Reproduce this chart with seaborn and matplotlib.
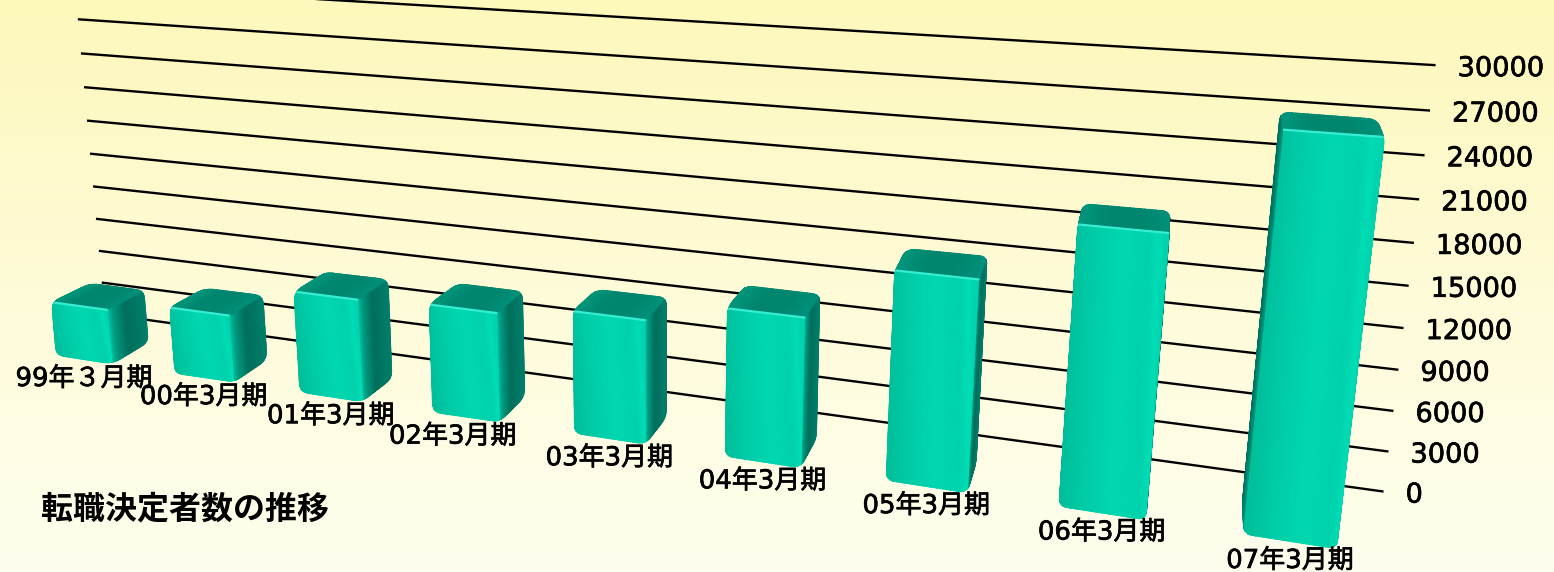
# recruiting chart: bars in a perspective view
import numpy as np
import matplotlib
matplotlib.use("Agg")
import matplotlib.pyplot as plt
import matplotlib.patheffects as pe
from matplotlib.colors import LinearSegmentedColormap
from matplotlib.path import Path
from matplotlib.transforms import Transform
import seaborn as sns

periods = ["99年３月期", "00年3月期", "01年3月期", "02年3月期", "03年3月期",
           "04年3月期", "05年3月期", "06年3月期", "07年3月期"]
placements = [4800, 5750, 8500, 8850, 9750, 11400, 15550, 20000, 27250]
ticks = [0, 3000, 6000, 9000, 12000, 15000, 18000, 21000, 24000, 27000, 30000]
title = "転職決定者数の推移"

# camera: vanishing points for category, value and depth directions
VP_X = (-4000, -256)
VP_V = (660, 6424)
VP_Z = (1200, -265)
ORIGIN = (84, 360)
A, B, C = -0.0285, -1.84e-6, 0.035
WALL_Z = 1.911
BAR_DEPTH = 1.0
WALL_LEFT, WALL_RIGHT = -0.45, 8.55


def project(x, v, z=0.0):
    x, v, z = np.asarray(x, float), np.asarray(v, float), np.asarray(z, float)
    den = 1 + A * x + B * v + C * z
    px = (A * x * VP_X[0] + B * v * VP_V[0] + C * z * VP_Z[0] + ORIGIN[0]) / den
    py = (A * x * VP_X[1] + B * v * VP_V[1] + C * z * VP_Z[1] + ORIGIN[1]) / den
    return px, py


class Perspective(Transform):
    input_dims = 2
    output_dims = 2
    is_affine = False
    has_inverse = False

    def __init__(self, z):
        super().__init__()
        self.z = z

    def transform_non_affine(self, values):
        values = np.asarray(values, float)
        px, py = project(values[:, 0], values[:, 1], self.z)
        return np.column_stack([px, py])


def hull(points):
    pts = sorted(set(points))
    def half(seq):
        out = []
        for p in seq:
            while len(out) > 1 and ((out[-1][0] - out[-2][0]) * (p[1] - out[-2][1])
                                    - (out[-1][1] - out[-2][1]) * (p[0] - out[-2][0])) <= 0:
                out.pop()
            out.append(p)
        return out[:-1]
    return half(pts) + half(pts[::-1])


def rounded(points, r):
    verts, codes = [], []
    n = len(points)
    for i, p in enumerate(points):
        p = np.array(p)
        prev = np.array(points[i - 1])
        nxt = np.array(points[(i + 1) % n])
        a = p + (prev - p) * min(r / np.linalg.norm(prev - p), 0.5)
        b = p + (nxt - p) * min(r / np.linalg.norm(nxt - p), 0.5)
        verts += [a, p, b]
        codes += [Path.MOVETO if i == 0 else Path.LINETO, Path.CURVE3, Path.CURVE3]
    verts.append(verts[0])
    codes.append(Path.CLOSEPOLY)
    return Path(np.array(verts), codes)


def face(f, cmap, clip, zorder, tilt=0.0):
    # shade one face of a box, f maps (s, t) in the unit square to pixels
    s, t = np.meshgrid(np.linspace(0, 1, 25), np.linspace(0, 1, 9))
    px, py = f(s, t)
    mesh = ax.pcolormesh(px, py, np.clip(s + tilt * (t - 0.5), 0, 1), shading="gouraud",
                         cmap=cmap, vmin=0, vmax=1, zorder=zorder)
    mesh.set_clip_path(clip, ax.transData)


front_cmap = LinearSegmentedColormap.from_list("front", [
    (0.0, "#00c09c"), (0.25, "#00cda8"), (0.55, "#00d8b0"), (0.85, "#00d2ac"),
    (0.96, "#00dfb6"), (1.0, "#00d4ae")])
side_cmap = LinearSegmentedColormap.from_list("side", [
    (0.0, "#00c8a4"), (0.14, "#009a80"), (0.45, "#006f5c"), (1.0, "#00806b")])
left_cmap = LinearSegmentedColormap.from_list("left", ["#00a98c", "#00705d"])
top_cmap = LinearSegmentedColormap.from_list("top", ["#00977c", "#00866e", "#00866e", "#00907a"])
back_cmap = LinearSegmentedColormap.from_list("back", [
    (0.0, "#fdf8bb"), (0.5, "#fefbd8"), (1.0, "#fffeee")])

sns.set_theme(style="white")
plt.rcParams["font.family"] = ["DejaVu Sans", "Noto Sans CJK JP"]
heavy = [pe.withStroke(linewidth=0.5, foreground="black")]

fig = plt.figure(figsize=(15.54, 5.72), dpi=100)
ax = fig.add_axes([0, 0, 1, 1])

positions = list(range(len(periods)))
sns.barplot(x=positions, y=placements, width=0.48, color="#00d2ac", saturation=1,
            linewidth=0, native_scale=True, ax=ax)
bars = list(ax.patches)

ax.imshow(np.linspace(0, 1, 200)[:, None], extent=[0, 1554, 572, 0], cmap=back_cmap,
          aspect="auto", zorder=0)

wall = Perspective(WALL_Z) + ax.transData
for tick in ticks:
    ax.plot([WALL_LEFT, WALL_RIGHT], [tick, tick], color="black", lw=1.7,
            transform=wall, zorder=1, solid_capstyle="butt")
    px, py = project(WALL_RIGHT, tick, WALL_Z)
    ax.text(px + 22, py + 4, str(tick), fontsize=19.6, color="black", ha="left",
            va="center", zorder=9, path_effects=heavy)

front = Perspective(0.0) + ax.transData
for i, bar in enumerate(bars):
    x0, wd, v = bar.get_x(), bar.get_width(), bar.get_height()
    x1 = x0 + wd
    corners = [project(x, val, z) for x in (x0, x1) for val in (0, v) for z in (0, BAR_DEPTH)]
    corners = [(float(a), float(b)) for a, b in corners]
    clip = rounded(hull(corners), 9)
    zb = 2 + i * 0.1

    # the seaborn bar is the base of the front face, shading goes on top
    bar.set_transform(front)
    bar.set_clip_path(clip, ax.transData)
    bar.set_zorder(zb + 0.025)

    face(lambda s, t: project(x0 + 0 * s, t * v, s * BAR_DEPTH), left_cmap, clip, zb)
    face(lambda s, t: project(x1 + 0 * s, t * v, s * BAR_DEPTH), side_cmap, clip, zb + 0.01)
    face(lambda s, t: project(x0 + s * wd, v + 0 * s, t * BAR_DEPTH), top_cmap, clip, zb + 0.02)
    face(lambda s, t: project(x0 + s * wd, t * v, 0 * s), front_cmap, clip, zb + 0.03, tilt=0.12)

    # light rim along the front top edge
    rim, = ax.plot(*project([x0, x1], [v, v], 0), color="#35eed2", lw=1.6, zorder=zb + 0.04)
    rim.set_clip_path(clip, ax.transData)

    px, py = project(x0 + wd / 2, 0, 0)
    if i == 3:
        px -= 13  # this label sits left of its bar in the original
    ax.text(px, py + 19, periods[i], fontsize=18.7, color="black", ha="center",
            va="center", zorder=9, path_effects=heavy)

ax.text(41, 509, title, fontsize=23.0, fontweight="bold", color="black", ha="left",
        va="center", family=["Noto Sans CJK JP", "DejaVu Sans"], zorder=9)

ax.set_xlim(0, 1554)
ax.set_ylim(572, 0)
ax.axis("off")
fig.savefig("out.png", dpi=100)
